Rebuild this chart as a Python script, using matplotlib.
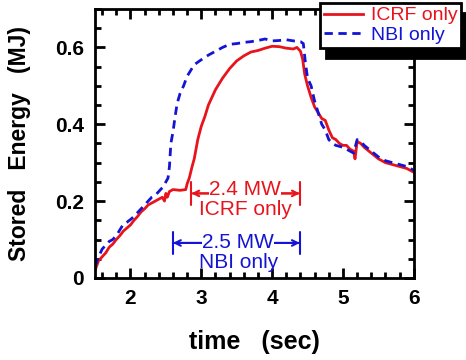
import matplotlib.pyplot as plt
from matplotlib.ticker import MultipleLocator

plt.rcParams['font.family'] = ['Liberation Sans', 'DejaVu Sans']

icrf_t = [1.50, 1.55, 1.60, 1.65, 1.70, 1.75, 1.80, 1.85, 1.90, 1.95, 2.00, 2.05,
          2.10, 2.15, 2.20, 2.25, 2.30, 2.35, 2.40, 2.45, 2.48, 2.50, 2.52, 2.55,
          2.60, 2.70, 2.78, 2.80, 2.83, 2.87, 2.90, 2.95, 3.00, 3.05, 3.10, 3.15,
          3.20, 3.25, 3.30, 3.40, 3.50, 3.60, 3.70, 3.80, 3.90, 4.00, 4.10, 4.20,
          4.30, 4.35, 4.40, 4.43, 4.46, 4.50, 4.55, 4.60, 4.65, 4.70, 4.75, 4.80,
          4.85, 4.90, 4.95, 5.00, 5.05, 5.10, 5.15, 5.17, 5.20, 5.25, 5.30, 5.40,
          5.50, 5.60, 5.70, 5.80, 5.90, 6.00]
icrf_w = [0.020, 0.045, 0.055, 0.065, 0.080, 0.088, 0.100, 0.110, 0.122, 0.130, 0.138, 0.150,
          0.160, 0.172, 0.180, 0.190, 0.195, 0.200, 0.205, 0.210, 0.200, 0.220, 0.210, 0.225,
          0.230, 0.228, 0.230, 0.245, 0.260, 0.290, 0.310, 0.360, 0.395, 0.420, 0.450, 0.470,
          0.490, 0.505, 0.520, 0.545, 0.565, 0.578, 0.588, 0.592, 0.598, 0.603, 0.602, 0.598,
          0.596, 0.600, 0.590, 0.570, 0.530, 0.500, 0.470, 0.445, 0.430, 0.415, 0.410, 0.385,
          0.365, 0.360, 0.350, 0.345, 0.345, 0.335, 0.330, 0.310, 0.355, 0.350, 0.340, 0.325,
          0.310, 0.300, 0.295, 0.290, 0.285, 0.275]

nbi_t = [1.50, 1.55, 1.60, 1.65, 1.70, 1.75, 1.80, 1.85, 1.90, 1.95, 2.00, 2.05,
         2.10, 2.15, 2.20, 2.25, 2.30, 2.35, 2.40, 2.45, 2.50, 2.53, 2.55, 2.57,
         2.60, 2.63, 2.66, 2.70, 2.75, 2.80, 2.85, 2.90, 3.00, 3.10, 3.20, 3.30,
         3.40, 3.50, 3.60, 3.70, 3.80, 3.90, 4.00, 4.10, 4.20, 4.30, 4.40, 4.44,
         4.47, 4.50, 4.55, 4.60, 4.65, 4.70, 4.75, 4.80, 4.85, 4.90, 5.00, 5.10,
         5.15, 5.20, 5.25, 5.30, 5.40, 5.50, 5.60, 5.70, 5.80, 5.90, 6.00]
nbi_w = [0.030, 0.055, 0.075, 0.085, 0.095, 0.100, 0.110, 0.125, 0.140, 0.145, 0.152, 0.160,
         0.170, 0.180, 0.190, 0.200, 0.210, 0.215, 0.225, 0.235, 0.250, 0.260, 0.290, 0.350,
         0.380, 0.420, 0.455, 0.480, 0.500, 0.525, 0.540, 0.555, 0.568, 0.580, 0.590, 0.600,
         0.608, 0.610, 0.613, 0.615, 0.618, 0.622, 0.617, 0.618, 0.620, 0.617, 0.615, 0.610,
         0.560, 0.520, 0.500, 0.460, 0.430, 0.400, 0.385, 0.360, 0.350, 0.345, 0.340, 0.330,
         0.325, 0.360, 0.355, 0.345, 0.330, 0.315, 0.305, 0.300, 0.295, 0.290, 0.280]

red = '#e8141c'
blue = '#1414d4'

fig = plt.figure(figsize=(4.66, 3.6), dpi=100)
ax = fig.add_axes([0.204, 0.228, 0.684, 0.747])

ax.plot(icrf_t, icrf_w, color=red, lw=2, label='ICRF only')
ax.plot(nbi_t, nbi_w, color=blue, lw=2, ls=(0, (3, 2)), label='NBI only')

ax.set_xlim(1.5, 6)
ax.set_ylim(0, 0.7)
ax.xaxis.set_major_locator(MultipleLocator(1))
ax.xaxis.set_minor_locator(MultipleLocator(0.2))
ax.yaxis.set_minor_locator(MultipleLocator(0.05))
ax.set_yticks([0, 0.2, 0.4, 0.6])
ax.set_yticklabels(['0', '0.2', '0.4', '0.6'])
ax.tick_params(which='both', direction='in', top=True, right=True, width=2)
ax.tick_params(which='major', length=7, pad=8, labelsize=15)
ax.tick_params(which='minor', length=4)
for lab in ax.get_xticklabels() + ax.get_yticklabels():
    lab.set_fontweight('bold')
for s in ax.spines.values():
    s.set_linewidth(2)

ax.set_xlabel('time   (sec)', fontsize=18, fontweight='bold')
ax.set_ylabel('Stored   Energy   (MJ)', fontsize=16.5, fontweight='bold')
ax.yaxis.set_label_coords(-0.2, 0.5)
ax.xaxis.set_label_coords(0.5, -0.193)

# power annotations
ax.annotate('', xy=(2.82, 0.22), xytext=(4.43, 0.22),
            arrowprops=dict(arrowstyle='<->', color=red, lw=1.5))
ax.annotate('', xy=(2.82, 0.22), xytext=(4.43, 0.22),
            arrowprops=dict(arrowstyle='|-|', color=red, lw=1.5, mutation_scale=8))
ax.text(3.62, 0.23, '2.4 MW', color=red, fontsize=15, ha='center', va='center',
        bbox=dict(facecolor='white', edgecolor='none', pad=0))
ax.text(3.62, 0.177, 'ICRF only', color=red, fontsize=15, ha='center', va='center')

ax.annotate('', xy=(2.56, 0.091), xytext=(4.43, 0.091),
            arrowprops=dict(arrowstyle='<->', color=blue, lw=1.5))
ax.annotate('', xy=(2.56, 0.091), xytext=(4.43, 0.091),
            arrowprops=dict(arrowstyle='|-|', color=blue, lw=1.5, mutation_scale=8))
ax.text(3.52, 0.092, '2.5 MW', color=blue, fontsize=15, ha='center', va='center',
        bbox=dict(facecolor='white', edgecolor='none', pad=0))
ax.text(3.52, 0.041, 'NBI only', color=blue, fontsize=15, ha='center', va='center')

leg = fig.legend(loc='upper left', bbox_to_anchor=(0.687, 0.992), fontsize=14,
                 frameon=True, fancybox=False,
                 shadow={'color': 'black', 'alpha': 1, 'ox': 4, 'oy': -7},
                 handlelength=2.0, handletextpad=0.4, borderpad=0.2, labelspacing=0.1,
                 borderaxespad=0)
leg.get_frame().set_edgecolor('black')
leg.get_frame().set_linewidth(2)
for txt, c in zip(leg.get_texts(), [red, blue]):
    txt.set_color(c)

fig.savefig('out.png', dpi=100)
